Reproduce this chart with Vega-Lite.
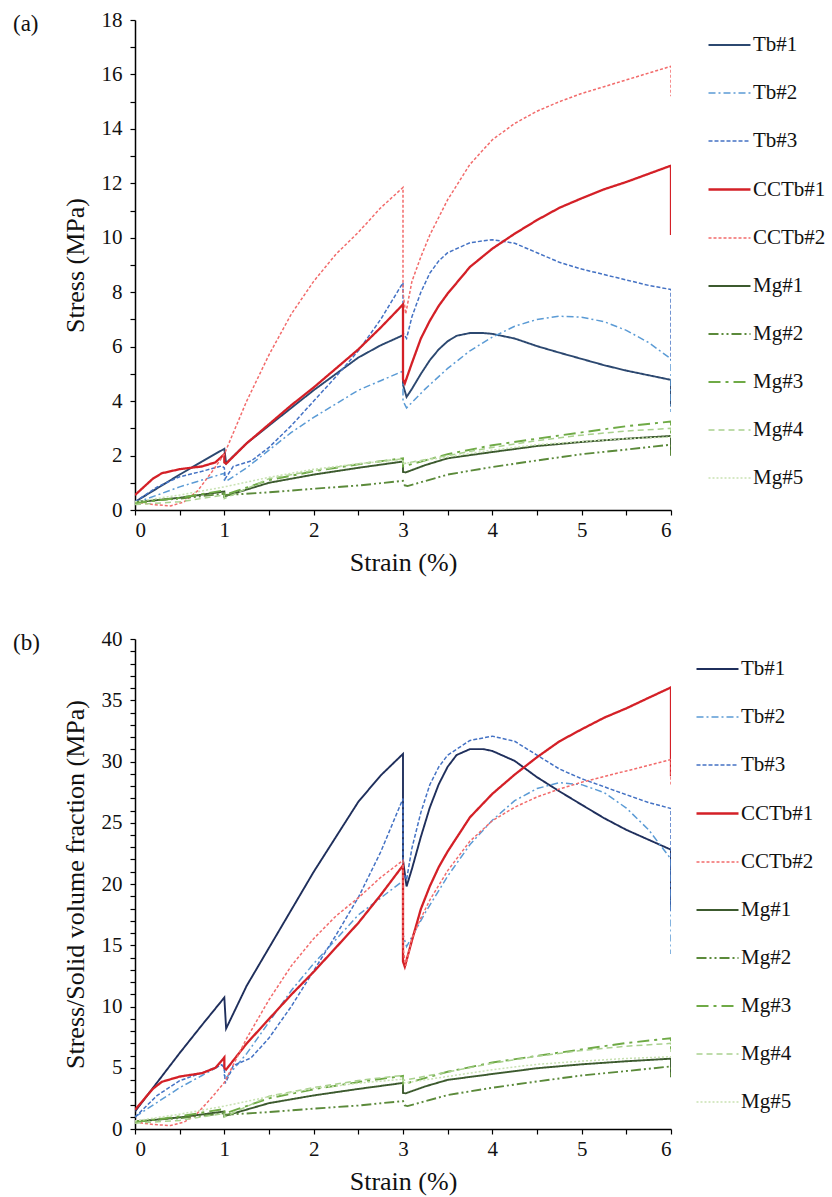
{
"$schema": "https://vega.github.io/schema/vega-lite/v6.json",
"padding": {"left": 13, "top": 9, "right": 5, "bottom": 5},
"autosize": {"type": "pad"},
"spacing": 53,
"config": {
  "font": "Liberation Serif",
  "view": {"stroke": null},
  "axis": {"domainColor": "#000", "tickColor": "#000", "labelColor": "#111", "titleColor": "#111", "labelFont": "Liberation Serif", "titleFont": "Liberation Serif", "labelFontSize": 21, "titleFontSize": 26, "titleFontWeight": "normal", "grid": false, "tickSize": 5, "domainWidth": 1.5, "tickWidth": 1.2},
  "legend": {"title": null, "orient": "right", "symbolType": "stroke", "symbolSize": 1764, "labelFont": "Liberation Serif", "labelFontSize": 21, "labelColor": "#111", "rowPadding": 16, "labelOffset": 1},
  "title": {"font": "Liberation Serif", "fontSize": 23, "fontWeight": "normal", "color": "#111", "anchor": "start", "frame": "group"}
},
"datasets": {
"a": [
{"s":"Tb#1","x":0,"y":0.3},{"s":"Tb#1","x":0.25,"y":0.8},{"s":"Tb#1","x":0.5,"y":1.3},{"s":"Tb#1","x":0.75,"y":1.78},{"s":"Tb#1","x":1,"y":2.25},{"s":"Tb#1","x":1.02,"y":1.72},{"s":"Tb#1","x":1.25,"y":2.45},{"s":"Tb#1","x":1.5,"y":3.1},{"s":"Tb#1","x":1.75,"y":3.75},{"s":"Tb#1","x":2,"y":4.4},{"s":"Tb#1","x":2.25,"y":5.0},{"s":"Tb#1","x":2.5,"y":5.6},{"s":"Tb#1","x":2.75,"y":6.05},{"s":"Tb#1","x":3,"y":6.42},{"s":"Tb#1","x":3,"y":4.6},{"s":"Tb#1","x":3.04,"y":4.15},{"s":"Tb#1","x":3.1,"y":4.45},{"s":"Tb#1","x":3.2,"y":5.0},{"s":"Tb#1","x":3.3,"y":5.5},{"s":"Tb#1","x":3.4,"y":5.9},{"s":"Tb#1","x":3.5,"y":6.2},{"s":"Tb#1","x":3.6,"y":6.4},{"s":"Tb#1","x":3.75,"y":6.5},{"s":"Tb#1","x":3.9,"y":6.5},{"s":"Tb#1","x":4,"y":6.47},{"s":"Tb#1","x":4.25,"y":6.3},{"s":"Tb#1","x":4.5,"y":6.02},{"s":"Tb#1","x":4.75,"y":5.78},{"s":"Tb#1","x":5,"y":5.55},{"s":"Tb#1","x":5.25,"y":5.32},{"s":"Tb#1","x":5.5,"y":5.12},{"s":"Tb#1","x":5.75,"y":4.95},{"s":"Tb#1","x":6,"y":4.78},{"s":"Tb#1","x":6,"y":3.8},
{"s":"Tb#2","x":0,"y":0.25},{"s":"Tb#2","x":0.25,"y":0.55},{"s":"Tb#2","x":0.5,"y":0.85},{"s":"Tb#2","x":0.75,"y":1.1},{"s":"Tb#2","x":1,"y":1.35},{"s":"Tb#2","x":1,"y":1.1},{"s":"Tb#2","x":1.02,"y":1.05},{"s":"Tb#2","x":1.25,"y":1.55},{"s":"Tb#2","x":1.5,"y":2.2},{"s":"Tb#2","x":1.75,"y":2.85},{"s":"Tb#2","x":2,"y":3.4},{"s":"Tb#2","x":2.25,"y":3.9},{"s":"Tb#2","x":2.5,"y":4.4},{"s":"Tb#2","x":2.75,"y":4.75},{"s":"Tb#2","x":3,"y":5.1},{"s":"Tb#2","x":3,"y":4.0},{"s":"Tb#2","x":3.04,"y":3.75},{"s":"Tb#2","x":3.25,"y":4.45},{"s":"Tb#2","x":3.5,"y":5.2},{"s":"Tb#2","x":3.75,"y":5.85},{"s":"Tb#2","x":4,"y":6.35},{"s":"Tb#2","x":4.25,"y":6.75},{"s":"Tb#2","x":4.5,"y":7.0},{"s":"Tb#2","x":4.75,"y":7.12},{"s":"Tb#2","x":5,"y":7.08},{"s":"Tb#2","x":5.25,"y":6.92},{"s":"Tb#2","x":5.5,"y":6.6},{"s":"Tb#2","x":5.75,"y":6.15},{"s":"Tb#2","x":6,"y":5.55},{"s":"Tb#2","x":6,"y":3.6},
{"s":"Tb#3","x":0,"y":0.3},{"s":"Tb#3","x":0.25,"y":0.85},{"s":"Tb#3","x":0.5,"y":1.22},{"s":"Tb#3","x":0.75,"y":1.42},{"s":"Tb#3","x":0.97,"y":1.62},{"s":"Tb#3","x":1,"y":1.55},{"s":"Tb#3","x":1.01,"y":1.15},{"s":"Tb#3","x":1.1,"y":1.6},{"s":"Tb#3","x":1.3,"y":1.8},{"s":"Tb#3","x":1.5,"y":2.3},{"s":"Tb#3","x":1.75,"y":3.1},{"s":"Tb#3","x":2,"y":4.0},{"s":"Tb#3","x":2.25,"y":4.9},{"s":"Tb#3","x":2.5,"y":5.85},{"s":"Tb#3","x":2.75,"y":7.0},{"s":"Tb#3","x":3,"y":8.35},{"s":"Tb#3","x":3,"y":6.5},{"s":"Tb#3","x":3.04,"y":6.3},{"s":"Tb#3","x":3.1,"y":7.1},{"s":"Tb#3","x":3.2,"y":8.0},{"s":"Tb#3","x":3.3,"y":8.7},{"s":"Tb#3","x":3.4,"y":9.15},{"s":"Tb#3","x":3.5,"y":9.45},{"s":"Tb#3","x":3.75,"y":9.82},{"s":"Tb#3","x":4,"y":9.93},{"s":"Tb#3","x":4.25,"y":9.8},{"s":"Tb#3","x":4.5,"y":9.45},{"s":"Tb#3","x":4.75,"y":9.1},{"s":"Tb#3","x":5,"y":8.85},{"s":"Tb#3","x":5.25,"y":8.65},{"s":"Tb#3","x":5.5,"y":8.45},{"s":"Tb#3","x":5.75,"y":8.25},{"s":"Tb#3","x":6,"y":8.1},{"s":"Tb#3","x":6,"y":5.5},
{"s":"CCTb#1","x":0,"y":0.55},{"s":"CCTb#1","x":0.1,"y":0.85},{"s":"CCTb#1","x":0.2,"y":1.15},{"s":"CCTb#1","x":0.3,"y":1.35},{"s":"CCTb#1","x":0.5,"y":1.5},{"s":"CCTb#1","x":0.75,"y":1.6},{"s":"CCTb#1","x":0.9,"y":1.75},{"s":"CCTb#1","x":1,"y":2.05},{"s":"CCTb#1","x":1,"y":1.75},{"s":"CCTb#1","x":1.02,"y":1.7},{"s":"CCTb#1","x":1.25,"y":2.45},{"s":"CCTb#1","x":1.5,"y":3.15},{"s":"CCTb#1","x":1.75,"y":3.85},{"s":"CCTb#1","x":2,"y":4.5},{"s":"CCTb#1","x":2.25,"y":5.2},{"s":"CCTb#1","x":2.5,"y":5.9},{"s":"CCTb#1","x":2.75,"y":6.7},{"s":"CCTb#1","x":3,"y":7.55},{"s":"CCTb#1","x":3,"y":4.8},{"s":"CCTb#1","x":3.02,"y":4.65},{"s":"CCTb#1","x":3.1,"y":5.4},{"s":"CCTb#1","x":3.2,"y":6.3},{"s":"CCTb#1","x":3.3,"y":6.95},{"s":"CCTb#1","x":3.4,"y":7.5},{"s":"CCTb#1","x":3.5,"y":7.95},{"s":"CCTb#1","x":3.75,"y":8.93},{"s":"CCTb#1","x":4,"y":9.6},{"s":"CCTb#1","x":4.25,"y":10.15},{"s":"CCTb#1","x":4.5,"y":10.65},{"s":"CCTb#1","x":4.75,"y":11.1},{"s":"CCTb#1","x":5,"y":11.45},{"s":"CCTb#1","x":5.25,"y":11.78},{"s":"CCTb#1","x":5.5,"y":12.05},{"s":"CCTb#1","x":5.75,"y":12.35},{"s":"CCTb#1","x":6,"y":12.65},{"s":"CCTb#1","x":6,"y":10.1},
{"s":"CCTb#2","x":0,"y":0.3},{"s":"CCTb#2","x":0.2,"y":0.2},{"s":"CCTb#2","x":0.4,"y":0.15},{"s":"CCTb#2","x":0.55,"y":0.3},{"s":"CCTb#2","x":0.7,"y":0.7},{"s":"CCTb#2","x":0.85,"y":1.35},{"s":"CCTb#2","x":1,"y":2.05},{"s":"CCTb#2","x":1.25,"y":4.0},{"s":"CCTb#2","x":1.5,"y":5.7},{"s":"CCTb#2","x":1.75,"y":7.2},{"s":"CCTb#2","x":2,"y":8.4},{"s":"CCTb#2","x":2.25,"y":9.4},{"s":"CCTb#2","x":2.5,"y":10.2},{"s":"CCTb#2","x":2.75,"y":11.1},{"s":"CCTb#2","x":3,"y":11.85},{"s":"CCTb#2","x":3,"y":8.0},{"s":"CCTb#2","x":3.03,"y":7.2},{"s":"CCTb#2","x":3.1,"y":8.4},{"s":"CCTb#2","x":3.2,"y":9.3},{"s":"CCTb#2","x":3.3,"y":10.1},{"s":"CCTb#2","x":3.5,"y":11.4},{"s":"CCTb#2","x":3.75,"y":12.7},{"s":"CCTb#2","x":4,"y":13.6},{"s":"CCTb#2","x":4.25,"y":14.2},{"s":"CCTb#2","x":4.5,"y":14.65},{"s":"CCTb#2","x":4.75,"y":15.0},{"s":"CCTb#2","x":5,"y":15.3},{"s":"CCTb#2","x":5.25,"y":15.55},{"s":"CCTb#2","x":5.5,"y":15.8},{"s":"CCTb#2","x":5.75,"y":16.05},{"s":"CCTb#2","x":6,"y":16.3},{"s":"CCTb#2","x":6,"y":15.2},
{"s":"Mg#1","x":0,"y":0.28},{"s":"Mg#1","x":0.5,"y":0.45},{"s":"Mg#1","x":1,"y":0.68},{"s":"Mg#1","x":1,"y":0.5},{"s":"Mg#1","x":1.02,"y":0.52},{"s":"Mg#1","x":1.5,"y":1.0},{"s":"Mg#1","x":2,"y":1.3},{"s":"Mg#1","x":2.5,"y":1.55},{"s":"Mg#1","x":3,"y":1.78},{"s":"Mg#1","x":3,"y":1.4},{"s":"Mg#1","x":3.03,"y":1.38},{"s":"Mg#1","x":3.25,"y":1.65},{"s":"Mg#1","x":3.5,"y":1.9},{"s":"Mg#1","x":4,"y":2.13},{"s":"Mg#1","x":4.5,"y":2.35},{"s":"Mg#1","x":5,"y":2.5},{"s":"Mg#1","x":5.5,"y":2.62},{"s":"Mg#1","x":6,"y":2.72},{"s":"Mg#1","x":6,"y":2.0},
{"s":"Mg#2","x":0,"y":0.3},{"s":"Mg#2","x":0.5,"y":0.42},{"s":"Mg#2","x":1,"y":0.6},{"s":"Mg#2","x":1,"y":0.5},{"s":"Mg#2","x":1.02,"y":0.55},{"s":"Mg#2","x":1.5,"y":0.65},{"s":"Mg#2","x":2,"y":0.78},{"s":"Mg#2","x":2.5,"y":0.9},{"s":"Mg#2","x":3,"y":1.07},{"s":"Mg#2","x":3.02,"y":0.9},{"s":"Mg#2","x":3.05,"y":0.88},{"s":"Mg#2","x":3.5,"y":1.3},{"s":"Mg#2","x":4,"y":1.58},{"s":"Mg#2","x":4.5,"y":1.82},{"s":"Mg#2","x":5,"y":2.05},{"s":"Mg#2","x":5.5,"y":2.22},{"s":"Mg#2","x":6,"y":2.4},{"s":"Mg#2","x":6,"y":2.0},
{"s":"Mg#3","x":0,"y":0.25},{"s":"Mg#3","x":0.5,"y":0.45},{"s":"Mg#3","x":1,"y":0.72},{"s":"Mg#3","x":1,"y":0.55},{"s":"Mg#3","x":1.5,"y":1.1},{"s":"Mg#3","x":2,"y":1.42},{"s":"Mg#3","x":2.5,"y":1.68},{"s":"Mg#3","x":3,"y":1.9},{"s":"Mg#3","x":3,"y":1.6},{"s":"Mg#3","x":3.5,"y":2.05},{"s":"Mg#3","x":4,"y":2.38},{"s":"Mg#3","x":4.5,"y":2.62},{"s":"Mg#3","x":5,"y":2.85},{"s":"Mg#3","x":5.5,"y":3.08},{"s":"Mg#3","x":6,"y":3.25},{"s":"Mg#3","x":6,"y":2.8},
{"s":"Mg#4","x":0,"y":0.2},{"s":"Mg#4","x":0.5,"y":0.3},{"s":"Mg#4","x":1,"y":0.55},{"s":"Mg#4","x":1,"y":0.42},{"s":"Mg#4","x":1.5,"y":1.15},{"s":"Mg#4","x":2,"y":1.45},{"s":"Mg#4","x":2.5,"y":1.7},{"s":"Mg#4","x":3,"y":1.88},{"s":"Mg#4","x":3,"y":1.7},{"s":"Mg#4","x":3.5,"y":2.0},{"s":"Mg#4","x":4,"y":2.3},{"s":"Mg#4","x":4.5,"y":2.55},{"s":"Mg#4","x":5,"y":2.75},{"s":"Mg#4","x":5.5,"y":2.9},{"s":"Mg#4","x":6,"y":3.0},{"s":"Mg#4","x":6,"y":2.7},
{"s":"Mg#5","x":0,"y":0.3},{"s":"Mg#5","x":0.5,"y":0.55},{"s":"Mg#5","x":1,"y":0.85},{"s":"Mg#5","x":1.5,"y":1.2},{"s":"Mg#5","x":2,"y":1.5},{"s":"Mg#5","x":2.5,"y":1.7},{"s":"Mg#5","x":3,"y":1.85},{"s":"Mg#5","x":3,"y":1.7},{"s":"Mg#5","x":3.5,"y":1.95},{"s":"Mg#5","x":4,"y":2.2},{"s":"Mg#5","x":4.5,"y":2.4},{"s":"Mg#5","x":5,"y":2.52},{"s":"Mg#5","x":5.5,"y":2.62},{"s":"Mg#5","x":6,"y":2.68}
],
"b": [
{"s":"Tb#1","x":0,"y":1.43},{"s":"Tb#1","x":0.25,"y":3.82},{"s":"Tb#1","x":0.5,"y":6.2},{"s":"Tb#1","x":0.75,"y":8.49},{"s":"Tb#1","x":1,"y":10.73},{"s":"Tb#1","x":1.02,"y":8.2},{"s":"Tb#1","x":1.25,"y":11.69},{"s":"Tb#1","x":1.5,"y":14.79},{"s":"Tb#1","x":1.75,"y":17.89},{"s":"Tb#1","x":2,"y":20.99},{"s":"Tb#1","x":2.25,"y":23.85},{"s":"Tb#1","x":2.5,"y":26.71},{"s":"Tb#1","x":2.75,"y":28.86},{"s":"Tb#1","x":3,"y":30.62},{"s":"Tb#1","x":3,"y":21.94},{"s":"Tb#1","x":3.04,"y":19.8},{"s":"Tb#1","x":3.1,"y":21.23},{"s":"Tb#1","x":3.2,"y":23.85},{"s":"Tb#1","x":3.3,"y":26.24},{"s":"Tb#1","x":3.4,"y":28.14},{"s":"Tb#1","x":3.5,"y":29.57},{"s":"Tb#1","x":3.6,"y":30.53},{"s":"Tb#1","x":3.75,"y":31.01},{"s":"Tb#1","x":3.9,"y":31.01},{"s":"Tb#1","x":4,"y":30.86},{"s":"Tb#1","x":4.25,"y":30.05},{"s":"Tb#1","x":4.5,"y":28.72},{"s":"Tb#1","x":4.75,"y":27.57},{"s":"Tb#1","x":5,"y":26.47},{"s":"Tb#1","x":5.25,"y":25.38},{"s":"Tb#1","x":5.5,"y":24.42},{"s":"Tb#1","x":5.75,"y":23.61},{"s":"Tb#1","x":6,"y":22.8},{"s":"Tb#1","x":6,"y":18.13},
{"s":"Tb#2","x":0,"y":0.99},{"s":"Tb#2","x":0.25,"y":2.18},{"s":"Tb#2","x":0.5,"y":3.37},{"s":"Tb#2","x":0.75,"y":4.37},{"s":"Tb#2","x":1,"y":5.36},{"s":"Tb#2","x":1,"y":4.37},{"s":"Tb#2","x":1.02,"y":4.17},{"s":"Tb#2","x":1.25,"y":6.15},{"s":"Tb#2","x":1.5,"y":8.73},{"s":"Tb#2","x":1.75,"y":11.31},{"s":"Tb#2","x":2,"y":13.5},{"s":"Tb#2","x":2.25,"y":15.48},{"s":"Tb#2","x":2.5,"y":17.47},{"s":"Tb#2","x":2.75,"y":18.86},{"s":"Tb#2","x":3,"y":20.25},{"s":"Tb#2","x":3,"y":15.88},{"s":"Tb#2","x":3.04,"y":14.89},{"s":"Tb#2","x":3.25,"y":17.67},{"s":"Tb#2","x":3.5,"y":20.64},{"s":"Tb#2","x":3.75,"y":23.22},{"s":"Tb#2","x":4,"y":25.21},{"s":"Tb#2","x":4.25,"y":26.8},{"s":"Tb#2","x":4.5,"y":27.79},{"s":"Tb#2","x":4.75,"y":28.27},{"s":"Tb#2","x":5,"y":28.11},{"s":"Tb#2","x":5.25,"y":27.47},{"s":"Tb#2","x":5.5,"y":26.2},{"s":"Tb#2","x":5.75,"y":24.42},{"s":"Tb#2","x":6,"y":22.03},{"s":"Tb#2","x":6,"y":14.29},
{"s":"Tb#3","x":0,"y":0.97},{"s":"Tb#3","x":0.25,"y":2.75},{"s":"Tb#3","x":0.5,"y":3.94},{"s":"Tb#3","x":0.75,"y":4.59},{"s":"Tb#3","x":0.97,"y":5.23},{"s":"Tb#3","x":1,"y":5.01},{"s":"Tb#3","x":1.01,"y":3.71},{"s":"Tb#3","x":1.1,"y":5.17},{"s":"Tb#3","x":1.3,"y":5.81},{"s":"Tb#3","x":1.5,"y":7.43},{"s":"Tb#3","x":1.75,"y":10.01},{"s":"Tb#3","x":2,"y":12.92},{"s":"Tb#3","x":2.25,"y":15.83},{"s":"Tb#3","x":2.5,"y":18.9},{"s":"Tb#3","x":2.75,"y":22.61},{"s":"Tb#3","x":3,"y":26.97},{"s":"Tb#3","x":3,"y":21.0},{"s":"Tb#3","x":3.04,"y":20.35},{"s":"Tb#3","x":3.1,"y":22.93},{"s":"Tb#3","x":3.2,"y":25.84},{"s":"Tb#3","x":3.3,"y":28.1},{"s":"Tb#3","x":3.4,"y":29.55},{"s":"Tb#3","x":3.5,"y":30.52},{"s":"Tb#3","x":3.75,"y":31.72},{"s":"Tb#3","x":4,"y":32.07},{"s":"Tb#3","x":4.25,"y":31.65},{"s":"Tb#3","x":4.5,"y":30.52},{"s":"Tb#3","x":4.75,"y":29.39},{"s":"Tb#3","x":5,"y":28.59},{"s":"Tb#3","x":5.25,"y":27.94},{"s":"Tb#3","x":5.5,"y":27.29},{"s":"Tb#3","x":5.75,"y":26.65},{"s":"Tb#3","x":6,"y":26.16},{"s":"Tb#3","x":6,"y":17.77},
{"s":"CCTb#1","x":0,"y":1.57},{"s":"CCTb#1","x":0.1,"y":2.42},{"s":"CCTb#1","x":0.2,"y":3.28},{"s":"CCTb#1","x":0.3,"y":3.85},{"s":"CCTb#1","x":0.5,"y":4.28},{"s":"CCTb#1","x":0.75,"y":4.56},{"s":"CCTb#1","x":0.9,"y":4.99},{"s":"CCTb#1","x":1,"y":5.84},{"s":"CCTb#1","x":1,"y":4.99},{"s":"CCTb#1","x":1.02,"y":4.85},{"s":"CCTb#1","x":1.25,"y":6.98},{"s":"CCTb#1","x":1.5,"y":8.98},{"s":"CCTb#1","x":1.75,"y":10.97},{"s":"CCTb#1","x":2,"y":12.83},{"s":"CCTb#1","x":2.25,"y":14.82},{"s":"CCTb#1","x":2.5,"y":16.82},{"s":"CCTb#1","x":2.75,"y":19.1},{"s":"CCTb#1","x":3,"y":21.52},{"s":"CCTb#1","x":3,"y":13.68},{"s":"CCTb#1","x":3.02,"y":13.25},{"s":"CCTb#1","x":3.1,"y":15.39},{"s":"CCTb#1","x":3.2,"y":17.96},{"s":"CCTb#1","x":3.3,"y":19.81},{"s":"CCTb#1","x":3.4,"y":21.38},{"s":"CCTb#1","x":3.5,"y":22.66},{"s":"CCTb#1","x":3.75,"y":25.45},{"s":"CCTb#1","x":4,"y":27.36},{"s":"CCTb#1","x":4.25,"y":28.93},{"s":"CCTb#1","x":4.5,"y":30.35},{"s":"CCTb#1","x":4.75,"y":31.64},{"s":"CCTb#1","x":5,"y":32.63},{"s":"CCTb#1","x":5.25,"y":33.57},{"s":"CCTb#1","x":5.5,"y":34.34},{"s":"CCTb#1","x":5.75,"y":35.2},{"s":"CCTb#1","x":6,"y":36.05},{"s":"CCTb#1","x":6,"y":28.79},
{"s":"CCTb#2","x":0,"y":0.56},{"s":"CCTb#2","x":0.2,"y":0.37},{"s":"CCTb#2","x":0.4,"y":0.28},{"s":"CCTb#2","x":0.55,"y":0.56},{"s":"CCTb#2","x":0.7,"y":1.3},{"s":"CCTb#2","x":0.85,"y":2.5},{"s":"CCTb#2","x":1,"y":3.79},{"s":"CCTb#2","x":1.25,"y":7.4},{"s":"CCTb#2","x":1.5,"y":10.55},{"s":"CCTb#2","x":1.75,"y":13.32},{"s":"CCTb#2","x":2,"y":15.54},{"s":"CCTb#2","x":2.25,"y":17.39},{"s":"CCTb#2","x":2.5,"y":18.87},{"s":"CCTb#2","x":2.75,"y":20.54},{"s":"CCTb#2","x":3,"y":21.92},{"s":"CCTb#2","x":3,"y":14.8},{"s":"CCTb#2","x":3.03,"y":13.32},{"s":"CCTb#2","x":3.1,"y":15.54},{"s":"CCTb#2","x":3.2,"y":17.21},{"s":"CCTb#2","x":3.3,"y":18.69},{"s":"CCTb#2","x":3.5,"y":21.09},{"s":"CCTb#2","x":3.75,"y":23.5},{"s":"CCTb#2","x":4,"y":25.16},{"s":"CCTb#2","x":4.25,"y":26.27},{"s":"CCTb#2","x":4.5,"y":27.1},{"s":"CCTb#2","x":4.75,"y":27.75},{"s":"CCTb#2","x":5,"y":28.31},{"s":"CCTb#2","x":5.25,"y":28.77},{"s":"CCTb#2","x":5.5,"y":29.23},{"s":"CCTb#2","x":5.75,"y":29.69},{"s":"CCTb#2","x":6,"y":30.16},{"s":"CCTb#2","x":6,"y":28.12},
{"s":"Mg#1","x":0,"y":0.59},{"s":"Mg#1","x":0.5,"y":0.95},{"s":"Mg#1","x":1,"y":1.43},{"s":"Mg#1","x":1,"y":1.06},{"s":"Mg#1","x":1.02,"y":1.1},{"s":"Mg#1","x":1.5,"y":2.11},{"s":"Mg#1","x":2,"y":2.74},{"s":"Mg#1","x":2.5,"y":3.27},{"s":"Mg#1","x":3,"y":3.76},{"s":"Mg#1","x":3,"y":2.95},{"s":"Mg#1","x":3.03,"y":2.91},{"s":"Mg#1","x":3.25,"y":3.48},{"s":"Mg#1","x":3.5,"y":4.01},{"s":"Mg#1","x":4,"y":4.49},{"s":"Mg#1","x":4.5,"y":4.96},{"s":"Mg#1","x":5,"y":5.28},{"s":"Mg#1","x":5.5,"y":5.53},{"s":"Mg#1","x":6,"y":5.74},{"s":"Mg#1","x":6,"y":4.22},
{"s":"Mg#2","x":0,"y":0.64},{"s":"Mg#2","x":0.5,"y":0.89},{"s":"Mg#2","x":1,"y":1.28},{"s":"Mg#2","x":1,"y":1.07},{"s":"Mg#2","x":1.02,"y":1.17},{"s":"Mg#2","x":1.5,"y":1.38},{"s":"Mg#2","x":2,"y":1.66},{"s":"Mg#2","x":2.5,"y":1.92},{"s":"Mg#2","x":3,"y":2.28},{"s":"Mg#2","x":3.02,"y":1.92},{"s":"Mg#2","x":3.05,"y":1.87},{"s":"Mg#2","x":3.5,"y":2.77},{"s":"Mg#2","x":4,"y":3.37},{"s":"Mg#2","x":4.5,"y":3.88},{"s":"Mg#2","x":5,"y":4.37},{"s":"Mg#2","x":5.5,"y":4.73},{"s":"Mg#2","x":6,"y":5.11},{"s":"Mg#2","x":6,"y":4.26},
{"s":"Mg#3","x":0,"y":0.57},{"s":"Mg#3","x":0.5,"y":1.03},{"s":"Mg#3","x":1,"y":1.64},{"s":"Mg#3","x":1,"y":1.25},{"s":"Mg#3","x":1.5,"y":2.51},{"s":"Mg#3","x":2,"y":3.24},{"s":"Mg#3","x":2.5,"y":3.83},{"s":"Mg#3","x":3,"y":4.33},{"s":"Mg#3","x":3,"y":3.65},{"s":"Mg#3","x":3.5,"y":4.67},{"s":"Mg#3","x":4,"y":5.43},{"s":"Mg#3","x":4.5,"y":5.97},{"s":"Mg#3","x":5,"y":6.5},{"s":"Mg#3","x":5.5,"y":7.02},{"s":"Mg#3","x":6,"y":7.41},{"s":"Mg#3","x":6,"y":6.38},
{"s":"Mg#4","x":0,"y":0.47},{"s":"Mg#4","x":0.5,"y":0.7},{"s":"Mg#4","x":1,"y":1.28},{"s":"Mg#4","x":1,"y":0.98},{"s":"Mg#4","x":1.5,"y":2.68},{"s":"Mg#4","x":2,"y":3.38},{"s":"Mg#4","x":2.5,"y":3.96},{"s":"Mg#4","x":3,"y":4.38},{"s":"Mg#4","x":3,"y":3.96},{"s":"Mg#4","x":3.5,"y":4.66},{"s":"Mg#4","x":4,"y":5.36},{"s":"Mg#4","x":4.5,"y":5.94},{"s":"Mg#4","x":5,"y":6.41},{"s":"Mg#4","x":5.5,"y":6.76},{"s":"Mg#4","x":6,"y":6.99},{"s":"Mg#4","x":6,"y":6.29},
{"s":"Mg#5","x":0,"y":0.66},{"s":"Mg#5","x":0.5,"y":1.21},{"s":"Mg#5","x":1,"y":1.87},{"s":"Mg#5","x":1.5,"y":2.64},{"s":"Mg#5","x":2,"y":3.3},{"s":"Mg#5","x":2.5,"y":3.74},{"s":"Mg#5","x":3,"y":4.07},{"s":"Mg#5","x":3,"y":3.74},{"s":"Mg#5","x":3.5,"y":4.29},{"s":"Mg#5","x":4,"y":4.84},{"s":"Mg#5","x":4.5,"y":5.28},{"s":"Mg#5","x":5,"y":5.54},{"s":"Mg#5","x":5.5,"y":5.76},{"s":"Mg#5","x":6,"y":5.9}
]
},
"vconcat": [
{
  "width": 536, "height": 490,
  "title": {"text": "(a)", "dx": -122, "offset": -27},
  "data": {"name": "a"},
  "mark": {"type": "line", "clip": true},
  "encoding": {
    "x": {"field": "x", "type": "quantitative", "scale": {"domain": [0, 6], "nice": false}, "axis": {"title": "Strain (%)", "values": [0,0.5,1,1.5,2,2.5,3,3.5,4,4.5,5,5.5,6], "labelExpr": "datum.value % 1 === 0 ? format(datum.value, 'd') : ''", "labelPadding": 4, "titlePadding": 9}},
    "y": {"field": "y", "type": "quantitative", "scale": {"domain": [0, 18], "nice": false}, "axis": {"title": "Stress (MPa)", "values": [0,1,2,3,4,5,6,7,8,9,10,11,12,13,14,15,16,17,18], "labelExpr": "datum.value % 2 === 0 ? format(datum.value, 'd') : ''", "labelPadding": 8, "titlePadding": 13}},
    "color": {"field": "s", "type": "nominal", "scale": {"domain": ["Tb#1","Tb#2","Tb#3","CCTb#1","CCTb#2","Mg#1","Mg#2","Mg#3","Mg#4","Mg#5"], "range": ["#2C4870","#5B9BD5","#4472C4","#D42027","#F26B6B","#3C5A2E","#5B8A3A","#6FAA46","#A9D18E","#C9E2B3"]}, "legend": {"offset": 33, "padding": 3}},
    "strokeDash": {"field": "s", "type": "nominal", "scale": {"domain": ["Tb#1","Tb#2","Tb#3","CCTb#1","CCTb#2","Mg#1","Mg#2","Mg#3","Mg#4","Mg#5"], "range": [[1,0],[7,3,2,3],[4,2],[1,0],[3,2],[1,0],[10,3,2,3,2,3],[12,5,3,5],[6,4],[2,2]]}, "legend": {"offset": 33, "padding": 3}},
    "strokeWidth": {"field": "s", "type": "nominal", "scale": {"type": "ordinal", "domain": ["Tb#1","Tb#2","Tb#3","CCTb#1","CCTb#2","Mg#1","Mg#2","Mg#3","Mg#4","Mg#5"], "range": [1.9,1.5,1.5,2.3,1.5,1.9,1.9,1.9,1.5,1.5]}, "legend": {"offset": 33, "padding": 3}},
    "order": {"value": null}
  }
},
{
  "width": 536, "height": 490,
  "title": {"text": "(b)", "dx": -122, "offset": -27},
  "data": {"name": "b"},
  "mark": {"type": "line", "clip": true},
  "encoding": {
    "x": {"field": "x", "type": "quantitative", "scale": {"domain": [0, 6], "nice": false}, "axis": {"title": "Strain (%)", "values": [0,0.5,1,1.5,2,2.5,3,3.5,4,4.5,5,5.5,6], "labelExpr": "datum.value % 1 === 0 ? format(datum.value, 'd') : ''", "labelPadding": 4, "titlePadding": 9}},
    "y": {"field": "y", "type": "quantitative", "scale": {"domain": [0, 40], "nice": false}, "axis": {"title": "Stress/Solid volume fraction (MPa)", "values": [0,1,2,3,4,5,6,7,8,9,10,11,12,13,14,15,16,17,18,19,20,21,22,23,24,25,26,27,28,29,30,31,32,33,34,35,36,37,38,39,40], "labelExpr": "datum.value % 5 === 0 ? format(datum.value, 'd') : ''", "labelPadding": 8, "titlePadding": 13}},
    "color": {"field": "s", "type": "nominal", "scale": {"domain": ["Tb#1","Tb#2","Tb#3","CCTb#1","CCTb#2","Mg#1","Mg#2","Mg#3","Mg#4","Mg#5"], "range": ["#1F2F5C","#5B9BD5","#4472C4","#D42027","#F26B6B","#3C5A2E","#5B8A3A","#6FAA46","#A9D18E","#C9E2B3"]}, "legend": {"offset": 16, "padding": 8}},
    "strokeDash": {"field": "s", "type": "nominal", "scale": {"domain": ["Tb#1","Tb#2","Tb#3","CCTb#1","CCTb#2","Mg#1","Mg#2","Mg#3","Mg#4","Mg#5"], "range": [[1,0],[7,3,2,3],[4,2],[1,0],[3,2],[1,0],[10,3,2,3,2,3],[12,5,3,5],[6,4],[2,2]]}, "legend": {"offset": 16, "padding": 8}},
    "strokeWidth": {"field": "s", "type": "nominal", "scale": {"type": "ordinal", "domain": ["Tb#1","Tb#2","Tb#3","CCTb#1","CCTb#2","Mg#1","Mg#2","Mg#3","Mg#4","Mg#5"], "range": [1.9,1.5,1.5,2.3,1.5,1.9,1.9,1.9,1.5,1.5]}, "legend": {"offset": 16, "padding": 8}},
    "order": {"value": null}
  }
}
],
"resolve": {"scale": {"color": "independent", "strokeDash": "independent", "strokeWidth": "independent"}, "legend": {"color": "independent", "strokeDash": "independent", "strokeWidth": "independent"}}
}
